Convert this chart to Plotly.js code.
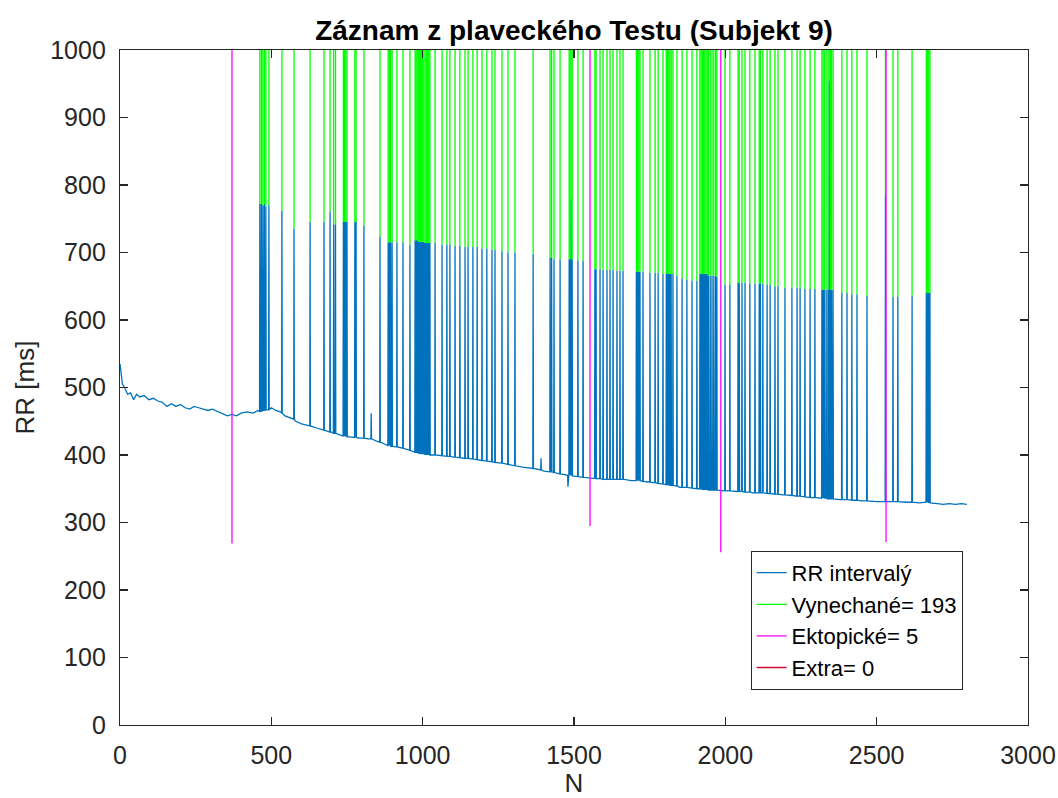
<!DOCTYPE html>
<html>
<head>
<meta charset="utf-8">
<script src="https://cdn.plot.ly/plotly-3.0.1.min.js"></script>
<style>html,body{margin:0;padding:0;background:#fff;}#chart{width:1058px;height:798px;}</style>
</head>
<body>
<div id="chart"></div>
<script>
// Baseline RR intervals (index N, value ms)
const baseN  = [0, 3, 8, 15, 25, 35, 45, 55, 65, 80, 95, 110, 125, 140, 155, 170, 185, 200, 215, 230, 245, 260, 275, 290, 305, 320, 340, 355, 370, 385, 400, 420, 440, 455, 500, 515, 530, 545, 560, 580, 600, 620, 650, 680, 700, 720, 760, 790, 820, 829, 830, 831, 850, 870, 910, 950, 1030, 1100, 1260, 1330, 1390, 1391, 1392, 1400, 1470, 1479, 1480, 1481, 1550, 1600, 1690, 1740, 1760, 1850, 2000, 2090, 2190, 2300, 2380, 2450, 2500, 2540, 2600, 2640, 2700, 2720, 2740, 2760, 2780, 2798];
const baseRR = [535, 520, 505, 500, 490, 492, 482, 490, 486, 488, 482, 484, 480, 478, 472, 476, 472, 475, 470, 468, 472, 470, 468, 466, 468, 465, 462, 458, 460, 458, 462, 464, 462, 466, 470, 466, 464, 458, 455, 450, 446, 444, 440, 436, 434, 431, 427, 425, 424, 424, 462, 424, 420, 417, 412, 408, 400, 397, 388, 382, 378, 395, 378, 376, 371, 370, 353, 370, 366, 364, 362, 360, 359, 352, 347, 344, 341, 337, 334, 332, 331, 331, 330, 329, 328, 327, 328, 327, 328, 327];

// Missed beats (Vynechané): index, top of the blue spike, local baseline
const missedN = [462, 467, 472, 477, 482, 492, 535, 575,
  628, 674, 694, 706, 712, 738, 742, 746, 750, 776, 780, 806, 859, 886, 890, 894, 899,
  915, 935, 958, 975, 978, 981, 984, 987, 990, 993, 996, 1000, 1004, 1008, 1012, 1016, 1020, 1024, 1041, 1064, 1080, 1090, 1107, 1123, 1140, 1150, 1166, 1180, 1196, 1212, 1229,
  1239, 1262, 1282, 1305, 1365, 1421, 1426, 1434, 1454, 1484, 1487, 1490, 1494, 1513, 1530,
  1569, 1573, 1586, 1596, 1609, 1619, 1629, 1642, 1652, 1662, 1706, 1710, 1714, 1718, 1728, 1751, 1768, 1778, 1794, 1805, 1809, 1813, 1817, 1821, 1827, 1840, 1857,
  1873, 1890, 1906, 1916, 1920, 1924, 1928, 1932, 1936, 1940, 1944, 1950, 1956, 1962, 1968, 1972, 1999, 2015, 2042, 2046, 2055, 2065, 2081, 2098, 2112, 2116, 2124, 2138, 2148, 2164, 2174,
  2197, 2220, 2237, 2247, 2263, 2280, 2296, 2319, 2323, 2327, 2333, 2339, 2343, 2347, 2351, 2356, 2385, 2402, 2418, 2435, 2468,
  2529, 2554, 2570, 2617, 2664, 2668, 2672, 2676];
const missedTop = [772, 772, 770, 772, 768, 770, 762, 735,
  745, 745, 760, 742, 742, 745, 745, 745, 745, 745, 745, 740, 723, 715, 715, 715, 715,
  715, 715, 712, 718, 718, 718, 718, 716, 716, 716, 716, 716, 716, 714, 714, 714, 714, 714, 714, 712, 712, 712, 710, 710, 708, 708, 708, 708, 706, 706, 704,
  704, 702, 700, 700, 698, 692, 692, 690, 690, 690, 690, 780, 690, 688, 688,
  675, 675, 675, 674, 674, 674, 674, 673, 673, 673, 672, 672, 672, 672, 672, 670, 670, 670, 668, 668, 668, 668, 668, 668, 668, 666, 662,
  660, 658, 658, 668, 668, 668, 668, 668, 668, 668, 666, 666, 666, 666, 666, 664, 652, 652, 655, 655, 655, 655, 654, 654, 654, 654, 654, 652, 652, 650, 650,
  648, 648, 648, 648, 646, 646, 646, 645, 645, 645, 645, 645, 955, 645, 645, 645, 640, 640, 638, 638, 636,
  785, 634, 634, 636, 640, 640, 640, 640];
const missedBase = [464, 465, 466, 466, 467, 467, 462, 453,
  443, 437, 434, 432, 432, 428, 428, 427, 427, 426, 426, 425, 419, 414, 414, 413, 413,
  412, 410, 407, 404, 404, 404, 403, 403, 403, 402, 402, 402, 402, 401, 401, 401, 401, 400, 400, 399, 398, 398, 397, 396, 395, 395, 394, 393, 392, 391, 390,
  389, 388, 386, 384, 380, 375, 375, 374, 372, 370, 370, 370, 369, 368, 367,
  365, 365, 365, 364, 364, 364, 364, 364, 364, 364, 362, 362, 362, 362, 361, 360, 359, 358, 357, 356, 356, 356, 355, 355, 355, 354, 352,
  352, 351, 350, 350, 350, 349, 349, 349, 349, 349, 348, 348, 348, 348, 348, 348, 347, 347, 346, 346, 346, 345, 345, 344, 344, 344, 344, 343, 343, 342, 342,
  341, 340, 339, 339, 338, 337, 337, 336, 336, 336, 336, 335, 335, 335, 335, 335, 334, 334, 333, 333, 332,
  331, 331, 331, 330, 330, 330, 329, 329];

// Ectopic beats (Ektopické): index and the short RR value
const ectopicN   = [370, 1553, 1985, 2531];
const ectopicLow = [269, 295, 256, 271];

// Extra beats: none
const extraN  = [];
const extraRR = [];

// Value used for the long intervals that run past the top of the axis
const offChart = 1300;

const legendNames = ['RR intervalý', 'Vynechané= 193', 'Ektopické= 5', 'Extra= 0'];

// ---- build traces ----
const nearSpike = n => missedN.some(m => Math.abs(m - n) <= 1);
const pts = [];
baseN.forEach((n, i) => { if (!nearSpike(n)) pts.push([n, baseRR[i]]); });
missedN.forEach((n, i) => {
  pts.push([n - 1, missedBase[i]]);
  pts.push([n, missedTop[i]]);
  pts.push([n + 1, missedBase[i]]);
});
pts.sort((a, b) => a[0] - b[0]);

const gX = [], gY = [];
missedN.forEach((n, i) => { gX.push(n, n, null); gY.push(missedTop[i], offChart, null); });
const mX = [], mY = [];
ectopicN.forEach((n, i) => { mX.push(n, n, null); mY.push(ectopicLow[i], offChart, null); });

const FONT = 'Liberation Sans, Arial, Helvetica, sans-serif';
const INK = '#262626';

const traces = [
  {x: pts.map(p => p[0]), y: pts.map(p => p[1]), type: 'scatter', mode: 'lines',
   name: legendNames[0], line: {color: '#0072BD', width: 1.3}},
  {x: gX, y: gY, type: 'scatter', mode: 'lines', name: legendNames[1],
   line: {color: '#00FF00', width: 1.3}},
  {x: mX, y: mY, type: 'scatter', mode: 'lines', name: legendNames[2],
   line: {color: '#FF00FF', width: 1.3}},
  {x: extraN.length ? extraN : [null], y: extraRR.length ? extraRR : [null], type: 'scatter', mode: 'lines',
   name: legendNames[3], line: {color: '#D01030', width: 1.3}}
];

const axisCommon = {
  showline: true, linecolor: INK, linewidth: 1.2, mirror: 'ticks',
  ticks: 'inside', ticklen: 8, tickwidth: 1.2, tickcolor: INK,
  showgrid: false, zeroline: false,
  tickfont: {family: FONT, size: 25, color: INK}
};

const layout = {
  width: 1058, height: 798,
  margin: {l: 120, r: 30, t: 50, b: 73},
  paper_bgcolor: '#fff', plot_bgcolor: '#fff',
  font: {family: FONT, color: INK},
  title: {text: 'Záznam z plaveckého Testu (Subjekt 9)', font: {family: FONT, size: 28, weight: 'bold', color: '#000'},
          x: 0.5, xref: 'paper', y: 1 - 30 / 798, yref: 'container', yanchor: 'middle'},
  xaxis: Object.assign({}, axisCommon, {range: [0, 3000], tickvals: [0, 500, 1000, 1500, 2000, 2500, 3000],
          ticklabelstandoff: 8,
          title: {text: 'N', font: {family: FONT, size: 26, color: INK}, standoff: 2}}),
  yaxis: Object.assign({}, axisCommon, {range: [0, 1000], dtick: 100, ticklabelstandoff: 8,
          title: {text: 'RR [ms]', font: {family: FONT, size: 26, color: INK}, standoff: 8}}),
  showlegend: true,
  legend: {x: 0.928, y: 0.052, xanchor: 'right', yanchor: 'bottom', bgcolor: '#fff',
           bordercolor: INK, borderwidth: 1, font: {family: FONT, size: 22, color: '#000'},
           tracegroupgap: 0}
};

Plotly.newPlot('chart', traces, layout, {displayModeBar: false, staticPlot: true});
</script>
</body>
</html>
